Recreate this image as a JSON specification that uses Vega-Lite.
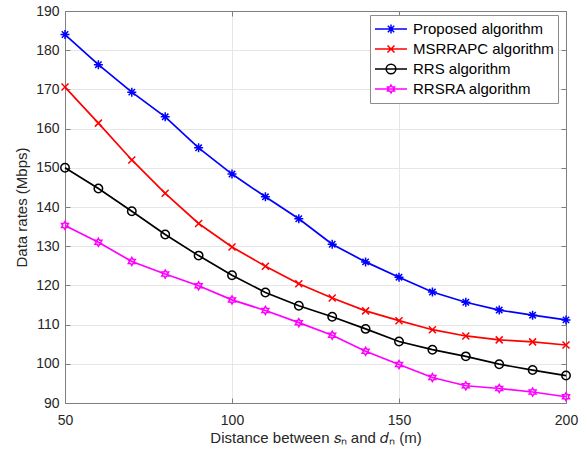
{
  "$schema": "https://vega.github.io/schema/vega-lite/v6.json",
  "width": 501,
  "height": 392,
  "padding": {"left": 14, "top": 4, "right": 5, "bottom": 5},
  "autosize": {"type": "pad"},
  "config": {
    "font": "Liberation Sans",
    "view": {"stroke": null},
    "axis": {
      "domainColor": "#7f7f7f",
      "tickColor": "#7f7f7f",
      "tickSize": -5,
      "labelColor": "#262626",
      "labelFontSize": 14,
      "labelFlush": false,
      "titleFontSize": 15,
      "titleColor": "#262626",
      "titleFontWeight": "normal",
      "gridColor": "#e6e6e6",
      "domainWidth": 1,
      "tickWidth": 1
    }
  },
  "data": {
    "values": [
      {"d": 50, "rate": 184.0, "series": "Proposed algorithm"},
      {"d": 60, "rate": 176.3, "series": "Proposed algorithm"},
      {"d": 70, "rate": 169.3, "series": "Proposed algorithm"},
      {"d": 80, "rate": 163.0, "series": "Proposed algorithm"},
      {"d": 90, "rate": 155.1, "series": "Proposed algorithm"},
      {"d": 100, "rate": 148.4, "series": "Proposed algorithm"},
      {"d": 110, "rate": 142.6, "series": "Proposed algorithm"},
      {"d": 120, "rate": 137.0, "series": "Proposed algorithm"},
      {"d": 130, "rate": 130.5, "series": "Proposed algorithm"},
      {"d": 140, "rate": 126.0, "series": "Proposed algorithm"},
      {"d": 150, "rate": 122.1, "series": "Proposed algorithm"},
      {"d": 160, "rate": 118.3, "series": "Proposed algorithm"},
      {"d": 170, "rate": 115.7, "series": "Proposed algorithm"},
      {"d": 180, "rate": 113.7, "series": "Proposed algorithm"},
      {"d": 190, "rate": 112.4, "series": "Proposed algorithm"},
      {"d": 200, "rate": 111.2, "series": "Proposed algorithm"},
      {"d": 50, "rate": 170.6, "series": "MSRRAPC algorithm"},
      {"d": 60, "rate": 161.4, "series": "MSRRAPC algorithm"},
      {"d": 70, "rate": 152.0, "series": "MSRRAPC algorithm"},
      {"d": 80, "rate": 143.5, "series": "MSRRAPC algorithm"},
      {"d": 90, "rate": 135.8, "series": "MSRRAPC algorithm"},
      {"d": 100, "rate": 129.8, "series": "MSRRAPC algorithm"},
      {"d": 110, "rate": 124.9, "series": "MSRRAPC algorithm"},
      {"d": 120, "rate": 120.4, "series": "MSRRAPC algorithm"},
      {"d": 130, "rate": 116.8, "series": "MSRRAPC algorithm"},
      {"d": 140, "rate": 113.5, "series": "MSRRAPC algorithm"},
      {"d": 150, "rate": 111.0, "series": "MSRRAPC algorithm"},
      {"d": 160, "rate": 108.7, "series": "MSRRAPC algorithm"},
      {"d": 170, "rate": 107.1, "series": "MSRRAPC algorithm"},
      {"d": 180, "rate": 106.1, "series": "MSRRAPC algorithm"},
      {"d": 190, "rate": 105.6, "series": "MSRRAPC algorithm"},
      {"d": 200, "rate": 104.8, "series": "MSRRAPC algorithm"},
      {"d": 50, "rate": 150.0, "series": "RRS algorithm"},
      {"d": 60, "rate": 144.7, "series": "RRS algorithm"},
      {"d": 70, "rate": 138.9, "series": "RRS algorithm"},
      {"d": 80, "rate": 133.0, "series": "RRS algorithm"},
      {"d": 90, "rate": 127.6, "series": "RRS algorithm"},
      {"d": 100, "rate": 122.6, "series": "RRS algorithm"},
      {"d": 110, "rate": 118.2, "series": "RRS algorithm"},
      {"d": 120, "rate": 114.8, "series": "RRS algorithm"},
      {"d": 130, "rate": 112.0, "series": "RRS algorithm"},
      {"d": 140, "rate": 108.9, "series": "RRS algorithm"},
      {"d": 150, "rate": 105.7, "series": "RRS algorithm"},
      {"d": 160, "rate": 103.6, "series": "RRS algorithm"},
      {"d": 170, "rate": 101.9, "series": "RRS algorithm"},
      {"d": 180, "rate": 99.9, "series": "RRS algorithm"},
      {"d": 190, "rate": 98.4, "series": "RRS algorithm"},
      {"d": 200, "rate": 97.0, "series": "RRS algorithm"},
      {"d": 50, "rate": 135.3, "series": "RRSRA algorithm"},
      {"d": 60, "rate": 131.0, "series": "RRSRA algorithm"},
      {"d": 70, "rate": 126.1, "series": "RRSRA algorithm"},
      {"d": 80, "rate": 122.9, "series": "RRSRA algorithm"},
      {"d": 90, "rate": 119.9, "series": "RRSRA algorithm"},
      {"d": 100, "rate": 116.3, "series": "RRSRA algorithm"},
      {"d": 110, "rate": 113.6, "series": "RRSRA algorithm"},
      {"d": 120, "rate": 110.5, "series": "RRSRA algorithm"},
      {"d": 130, "rate": 107.3, "series": "RRSRA algorithm"},
      {"d": 140, "rate": 103.2, "series": "RRSRA algorithm"},
      {"d": 150, "rate": 99.8, "series": "RRSRA algorithm"},
      {"d": 160, "rate": 96.5, "series": "RRSRA algorithm"},
      {"d": 170, "rate": 94.4, "series": "RRSRA algorithm"},
      {"d": 180, "rate": 93.7, "series": "RRSRA algorithm"},
      {"d": 190, "rate": 92.8, "series": "RRSRA algorithm"},
      {"d": 200, "rate": 91.6, "series": "RRSRA algorithm"}
    ]
  },
  "layer": [
    {
      "transform": [{"filter": "datum.series === 'RRSRA algorithm'"}],
      "mark": {"type": "line", "color": "#ff00ff", "strokeWidth": 1.7,
               "point": {"filled": false, "color": "#ff00ff", "strokeWidth": 1.5, "size": 64, "opacity": 1,
                         "shape": "M0,-1L0.289,-0.5L0.866,-0.5L0.577,0L0.866,0.5L0.289,0.5L0,1L-0.289,0.5L-0.866,0.5L-0.577,0L-0.866,-0.5L-0.289,-0.5Z"}},
      "encoding": {
        "x": {"field": "d", "type": "quantitative", "scale": {"domain": [50, 200], "nice": false, "zero": false},
              "axis": {"orient": "bottom", "values": [50, 100, 150, 200], "grid": true, "labelPadding": 15, "titlePadding": 3, "title": "Distance between 𝑠ₙ and 𝑑ₙ (m)"}},
        "y": {"field": "rate", "type": "quantitative", "scale": {"domain": [90, 190], "nice": false, "zero": false},
              "axis": {"orient": "left", "values": [90, 100, 110, 120, 130, 140, 150, 160, 170, 180, 190], "grid": true, "labelPadding": 11, "titlePadding": 6, "title": "Data rates (Mbps)"}}
      }
    },
    {
      "transform": [{"filter": "datum.series === 'RRS algorithm'"}],
      "mark": {"type": "line", "color": "#000000", "strokeWidth": 1.7,
               "point": {"filled": false, "color": "#000000", "strokeWidth": 1.5, "size": 71, "opacity": 1, "shape": "circle"}},
      "encoding": {
        "x": {"field": "d", "type": "quantitative", "axis": null},
        "y": {"field": "rate", "type": "quantitative", "axis": null}
      }
    },
    {
      "transform": [{"filter": "datum.series === 'MSRRAPC algorithm'"}],
      "mark": {"type": "line", "color": "#ff0000", "strokeWidth": 1.7,
               "point": {"filled": false, "color": "#ff0000", "strokeWidth": 1.5, "size": 49, "opacity": 1,
                         "shape": "M-1,-1L1,1M-1,1L1,-1"}},
      "encoding": {
        "x": {"field": "d", "type": "quantitative", "axis": null},
        "y": {"field": "rate", "type": "quantitative", "axis": null}
      }
    },
    {
      "transform": [{"filter": "datum.series === 'Proposed algorithm'"}],
      "mark": {"type": "line", "color": "#0000ff", "strokeWidth": 1.7,
               "point": {"filled": false, "color": "#0000ff", "strokeWidth": 1.5, "size": 81, "opacity": 1,
                         "shape": "M-1,0L1,0M0,-1L0,1M-0.71,-0.71L0.71,0.71M-0.71,0.71L0.71,-0.71"}},
      "encoding": {
        "x": {"field": "d", "type": "quantitative", "axis": null},
        "y": {"field": "rate", "type": "quantitative", "axis": null}
      }
    },
    {
      "mark": {"type": "point", "filled": false, "opacity": 0},
      "encoding": {
        "x": {"field": "d", "type": "quantitative",
              "axis": {"orient": "top", "values": [50, 100, 150, 200], "grid": false, "labels": false, "title": null}},
        "y": {"field": "rate", "type": "quantitative",
              "axis": {"orient": "right", "values": [90, 100, 110, 120, 130, 140, 150, 160, 170, 180, 190], "grid": false, "labels": false, "title": null}},
        "color": {"field": "series", "type": "nominal",
                  "scale": {"domain": ["Proposed algorithm", "MSRRAPC algorithm", "RRS algorithm", "RRSRA algorithm"], "range": ["#0000ff", "#ff0000", "#000000", "#ff00ff"]},
                  "legend": {"title": null, "orient": "none", "legendX": 305, "legendY": 4, "symbolSize": 1024, "symbolStrokeWidth": 1.5, "symbolOpacity": 1, "clipHeight": 20, "rowPadding": 0, "labelFontSize": 15, "labelFont": "Liberation Sans", "labelColor": "#000000", "labelOffset": 5, "padding": 4, "fillColor": "#ffffff", "strokeColor": "#8c8c8c"}},
        "shape": {"field": "series", "type": "nominal",
                  "scale": {"domain": ["Proposed algorithm", "MSRRAPC algorithm", "RRS algorithm", "RRSRA algorithm"],
                            "range": [
                              "M-1,0L1,0M-0.28,0L0.28,0M0,-0.28L0,0.28M-0.2,-0.2L0.2,0.2M-0.2,0.2L0.2,-0.2",
                              "M-1,0L1,0M-0.22,-0.22L0.22,0.22M-0.22,0.22L0.22,-0.22",
                              "M-1,0L1,0M0.3,0A0.3,0.3 0 1,1 -0.3,0A0.3,0.3 0 1,1 0.3,0",
                              "M-1,0L1,0M0,-0.25L0.072,-0.125L0.217,-0.125L0.144,0L0.217,0.125L0.072,0.125L0,0.25L-0.072,0.125L-0.217,0.125L-0.144,0L-0.217,-0.125L-0.072,-0.125Z"
                            ]},
                  "legend": {"title": null, "orient": "none", "legendX": 305, "legendY": 4, "symbolSize": 1024, "symbolStrokeWidth": 1.5, "symbolOpacity": 1, "clipHeight": 20, "rowPadding": 0, "labelFontSize": 15, "labelFont": "Liberation Sans", "labelColor": "#000000", "labelOffset": 5, "padding": 4, "fillColor": "#ffffff", "strokeColor": "#8c8c8c"}}
      }
    }
  ],
  "resolve": {"axis": {"x": "independent", "y": "independent"}}
}
